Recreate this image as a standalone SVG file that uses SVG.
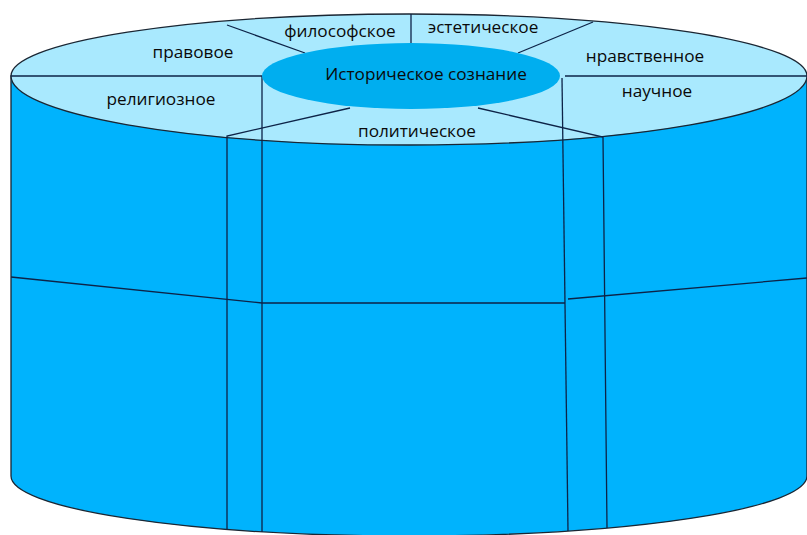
<svg xmlns="http://www.w3.org/2000/svg" width="807" height="535" viewBox="0 0 807 535">
<style>
.ln{fill:none;stroke:#0d2347;stroke-width:1.3}
.lbl{font-family:"Open Sans","Noto Sans",sans-serif;font-size:17.2px;fill:#0a0a0a;text-anchor:middle}
</style>
<rect width="807" height="535" fill="#ffffff"/>
<g id="body">
<path d="M11 76 L11 476 A398 60 0 0 0 807 476 L807 76 Z" fill="#00b3fd" stroke="#1a2633" stroke-width="1.3"/>
</g>
<g id="top">
<path d="M11 76 A398 62 0 0 1 807 76 A398 69 0 0 1 11 76 Z" fill="#a9e9fe" stroke="#1a2633" stroke-width="1.3"/>
</g>
<g id="connectors">
<path class="ln" d="M11 76 L262 76 L262 532"/>
<path class="ln" d="M227 25 L305 53"/>
<path class="ln" d="M350 108 L227 136 L227 529"/>
<path class="ln" d="M411 14 L411 44"/>
<path class="ln" d="M593 22 L518 53"/>
<path class="ln" d="M565 76 L807 76"/>
<path class="ln" d="M562 78 L568 531"/>
<path class="ln" d="M478 108 L603 137 L607 528"/>
<path class="ln" d="M11 277 L262 303 L565 303"/>
<path class="ln" d="M568 299 L807 278"/>
</g>
<g id="center">
<ellipse cx="411" cy="76" rx="149" ry="33" fill="#00aeef"/>
<text class="lbl" x="426" y="80">Историческое сознание</text>
</g>
<g id="pravovoe"><text class="lbl" x="193" y="58">правовое</text></g>
<g id="filosofskoe"><text class="lbl" x="340" y="37">философское</text></g>
<g id="esteticheskoe"><text class="lbl" x="483" y="33">эстетическое</text></g>
<g id="nravstvennoe"><text class="lbl" x="645" y="62">нравственное</text></g>
<g id="nauchnoe"><text class="lbl" x="657" y="97">научное</text></g>
<g id="religioznoe"><text class="lbl" x="161" y="105">религиозное</text></g>
<g id="politicheskoe"><text class="lbl" x="417" y="137">политическое</text></g>
</svg>
